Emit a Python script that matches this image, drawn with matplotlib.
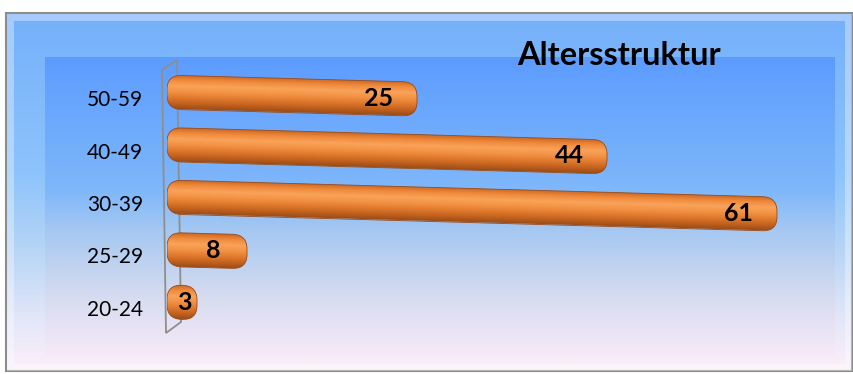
import numpy as np
import matplotlib
matplotlib.use('Agg')
import matplotlib.pyplot as plt
from matplotlib.patches import FancyBboxPatch, Rectangle, Polygon
from matplotlib.transforms import Affine2D, ScaledTranslation
from matplotlib.colors import LinearSegmentedColormap

plt.rcParams['font.family'] = ['Lato', 'DejaVu Sans']

# data
groups = ['20-24', '25-29', '30-39', '40-49', '50-59']
counts = [3, 8, 61, 44, 25]
title = 'Altersstruktur'

W, H = 854, 374
fig = plt.figure(figsize=(W / 100, H / 100), dpi=100)
fig.patch.set_facecolor('white')

# background frame in pixel coordinates
bg = fig.add_axes([0, 0, 1, 1])
bg.set_xlim(0, W)
bg.set_ylim(H, 0)
bg.axis('off')

grad = np.linspace(0, 1, 256).reshape(-1, 1)
outer = LinearSegmentedColormap.from_list(
    'outer', [(0, '#74b0fa'), (0.45, '#8ec4fc'), (0.65, '#b4d4f6'),
              (0.85, '#e2e6f8'), (1, '#fcf0fa')])
inner = LinearSegmentedColormap.from_list(
    'inner', [(0, '#5c9cff'), (0.45, '#80b8fa'), (0.58, '#a6c8f2'),
              (0.78, '#d2daef'), (1, '#f8eaf8')])
bg.imshow(grad, cmap=outer, extent=(6, 852, 371, 13), aspect='auto', zorder=0)
bg.imshow(grad, cmap=inner, extent=(45, 835, 357, 57), aspect='auto', zorder=1)
bg.add_patch(Rectangle((6, 13), 846, 358, fill=False, ec='#8c8c8c', lw=1.5, zorder=2))
bg.add_patch(Rectangle((10, 17), 838, 350, fill=False, ec='white', lw=5, alpha=0.35, zorder=2))
bg.set_xlim(0, W)
bg.set_ylim(H, 0)

# 3d wall behind the category axis
bg.add_patch(Polygon([(162, 70), (177, 60), (181, 322), (166, 333)], closed=True,
                     fill=False, ec='#8e8e8e', lw=1.3, zorder=3))

bg.text(619, 55, title, ha='center', va='center', fontsize=23.5, fontweight='bold', zorder=5)

# data axes
ax = fig.add_axes([167 / W, 1 - 357 / H, (835 - 167) / W, 300 / H])
ax.patch.set_alpha(0)
xmax = 66.8
ylo, yhi = -1.05, 4.67

# slight perspective tilt of the bars
shear = Affine2D().translate(-167, 0).skew(0, np.arctan(-0.028)).translate(167, 0)
tr = ax.transData + shear

bar_cmap = LinearSegmentedColormap.from_list(
    'bar', ['#c9641f', '#ef8a3c', '#f9a35a', '#f39244', '#e07a2e', '#c4621f', '#9a4c16'])
h = 0.65
for i, v in enumerate(counts):
    box = FancyBboxPatch((0, i - h / 2), v, h,
                         boxstyle='round,pad=0,rounding_size=1.45',
                         mutation_aspect=0.19, transform=tr,
                         fc='none', ec='#9a4a16', lw=0.6, zorder=3)
    ax.add_patch(box)
    im = ax.imshow(grad, cmap=bar_cmap, extent=(0, v + 1, i - h / 2, i + h / 2),
                   origin='upper', aspect='auto', transform=tr, zorder=2)
    im.set_clip_path(box)
    lx = v - min(3.8, v * 0.42)
    ax.text(lx, i, str(v), transform=tr, ha='center', va='center',
            fontsize=18, fontweight='bold', color='black', zorder=4)

ax.set_xlim(0, xmax)
ax.set_ylim(ylo, yhi)
ax.set_yticks(range(len(groups)))
ax.set_yticklabels(groups, fontsize=15)
ax.tick_params(axis='y', length=0, pad=17)
ax.set_xticks([])
for s in ax.spines.values():
    s.set_visible(False)
# category labels sit a little below the bar centres
for lab in ax.get_yticklabels():
    lab.set_transform(lab.get_transform() + ScaledTranslation(0, -0.06, fig.dpi_scale_trans))

fig.savefig('out.png', dpi=100)
